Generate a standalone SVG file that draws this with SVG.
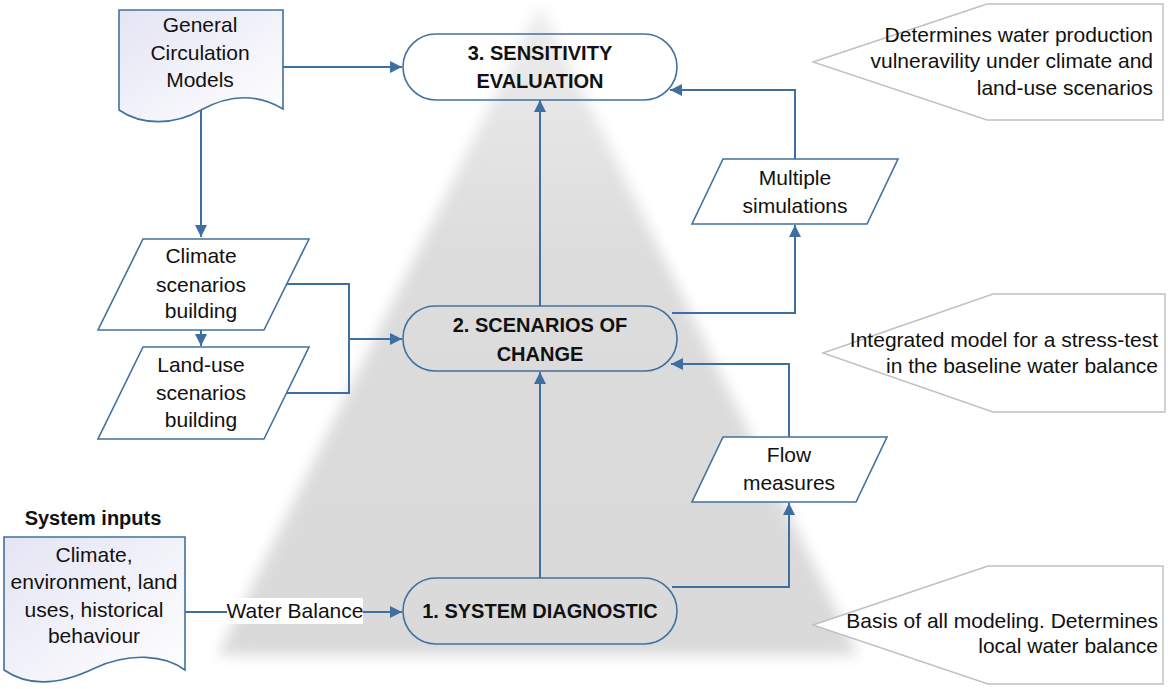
<svg xmlns="http://www.w3.org/2000/svg" width="1170" height="689" viewBox="0 0 1170 689">
<defs>
<style>
.t{font-family:"Liberation Sans",Arial,sans-serif;font-size:21px;fill:#111;text-anchor:middle}
.b{font-family:"Liberation Sans",Arial,sans-serif;font-size:20px;font-weight:bold;fill:#111;text-anchor:middle}
.r{text-anchor:end}
.box{fill:none;stroke:#41719c;stroke-width:1.6}
.para{fill:#fff;stroke:#41719c;stroke-width:1.6}
.doc{fill:url(#docg);stroke:#41719c;stroke-width:1.6}
.call{fill:#fff;stroke:#c0c0c0;stroke-width:1.4}
.c{fill:none;stroke:#3f6fa0;stroke-width:2}
.a{marker-end:url(#ah)}
</style>
<marker id="ah" markerUnits="userSpaceOnUse" markerWidth="14" markerHeight="12" refX="12" refY="6" orient="auto">
<path d="M0,0 L12,6 L0,12 Z" fill="#3f6fa0"/>
</marker>
<linearGradient id="docg" x1="0" y1="0" x2="1" y2="1">
<stop offset="0" stop-color="#e4e4f4"/>
<stop offset="1" stop-color="#ffffff"/>
</linearGradient>
<linearGradient id="trig" x1="0" y1="0" x2="0" y2="1">
<stop offset="0" stop-color="#ececec"/>
<stop offset="0.4" stop-color="#dcdcdc"/>
<stop offset="1" stop-color="#d9d9d9"/>
</linearGradient>
<filter id="blur" x="-10%" y="-10%" width="120%" height="120%">
<feGaussianBlur stdDeviation="7"/>
</filter>
</defs>
<rect width="1170" height="689" fill="#fff"/>
<polygon points="540,5 218,655 858,655" fill="url(#trig)" filter="url(#blur)"/>

<g id="callout-top"><polygon class="call" points="813,62 987,4 1163,4 1163,120 987,120"/>
<text class="t r" x="1153" y="42">Determines water production</text>
<text class="t r" x="1153" y="68">vulneravility under climate and</text>
<text class="t r" x="1153" y="95">land-use scenarios</text></g>
<g id="callout-mid"><polygon class="call" points="823,353 993,294 1165,294 1165,412 993,412"/>
<text class="t r" x="1158" y="347">Integrated model for a stress-test</text>
<text class="t r" x="1158" y="373">in the baseline water balance</text></g>
<g id="callout-bot"><polygon class="call" points="813,625 988,566 1163,566 1163,684 988,684"/>
<text class="t r" x="1158" y="628">Basis of all modeling. Determines</text>
<text class="t r" x="1158" y="653">local water balance</text></g>

<g id="connectors">
<path class="c a" d="M283,67 H402"/>
<path class="c a" d="M201,110 V237"/>
<path class="c a" d="M201,330 V346"/>
<path class="c" d="M287,284 H349 V393 H287"/>
<path class="c a" d="M349,339 H402"/>
<path class="c a" d="M185,612 H402"/>
<path class="c a" d="M540,578 V372"/>
<path class="c a" d="M540,306 V100"/>
<path class="c a" d="M672,587 H789 V503"/>
<path class="c a" d="M789,437 V364 H671"/>
<path class="c a" d="M672,313 H795 V225"/>
<path class="c a" d="M795,159 V90 H670"/>
</g>

<g id="wb-label"><rect x="227" y="598" width="136" height="26" fill="#fff"/>
<text class="t" x="295" y="618">Water Balance</text></g>

<g id="gcm"><path class="doc" d="M119,10 H283 V109 C258,94 230,94 201,110 C175,125 142,126 119,110 Z"/>
<text class="t" x="200" y="32">General</text>
<text class="t" x="200" y="60">Circulation</text>
<text class="t" x="200" y="87">Models</text></g>

<g id="sysinputs"><text class="b" x="93" y="525">System inputs</text>
<path class="doc" d="M4,537 H185 V670 C165,655 130,652 95,668 C62,684 30,688 4,670 Z"/>
<text class="t" x="94" y="562">Climate,</text>
<text class="t" x="94" y="589">environment, land</text>
<text class="t" x="94" y="617">uses, historical</text>
<text class="t" x="94" y="643">behaviour</text></g>

<g id="climate"><polygon class="para" points="143,239 309,239 264,330 98,330"/>
<text class="t" x="201" y="263">Climate</text>
<text class="t" x="201" y="292">scenarios</text>
<text class="t" x="201" y="318">building</text></g>

<g id="landuse"><polygon class="para" points="143,347 309,347 264,439 98,439"/>
<text class="t" x="201" y="372">Land-use</text>
<text class="t" x="201" y="400">scenarios</text>
<text class="t" x="201" y="427">building</text></g>

<g id="multiple"><polygon class="para" points="723,159 898,159 867,224 692,224"/>
<text class="t" x="795" y="185">Multiple</text>
<text class="t" x="795" y="213">simulations</text></g>

<g id="flow"><polygon class="para" points="723,437 887,437 856,502 692,502"/>
<text class="t" x="789" y="462">Flow</text>
<text class="t" x="789" y="490">measures</text></g>

<g id="box3"><rect class="box" x="403" y="34" width="274" height="66" rx="33"/>
<text class="b" x="540" y="60">3. SENSITIVITY</text>
<text class="b" x="540" y="88">EVALUATION</text></g>

<g id="box2"><rect class="box" x="403" y="306" width="274" height="65" rx="32"/>
<text class="b" x="540" y="332">2. SCENARIOS OF</text>
<text class="b" x="540" y="361">CHANGE</text></g>

<g id="box1"><rect class="box" x="403" y="578" width="274" height="66" rx="33"/>
<text class="b" x="540" y="618">1. SYSTEM DIAGNOSTIC</text></g>
</svg>
